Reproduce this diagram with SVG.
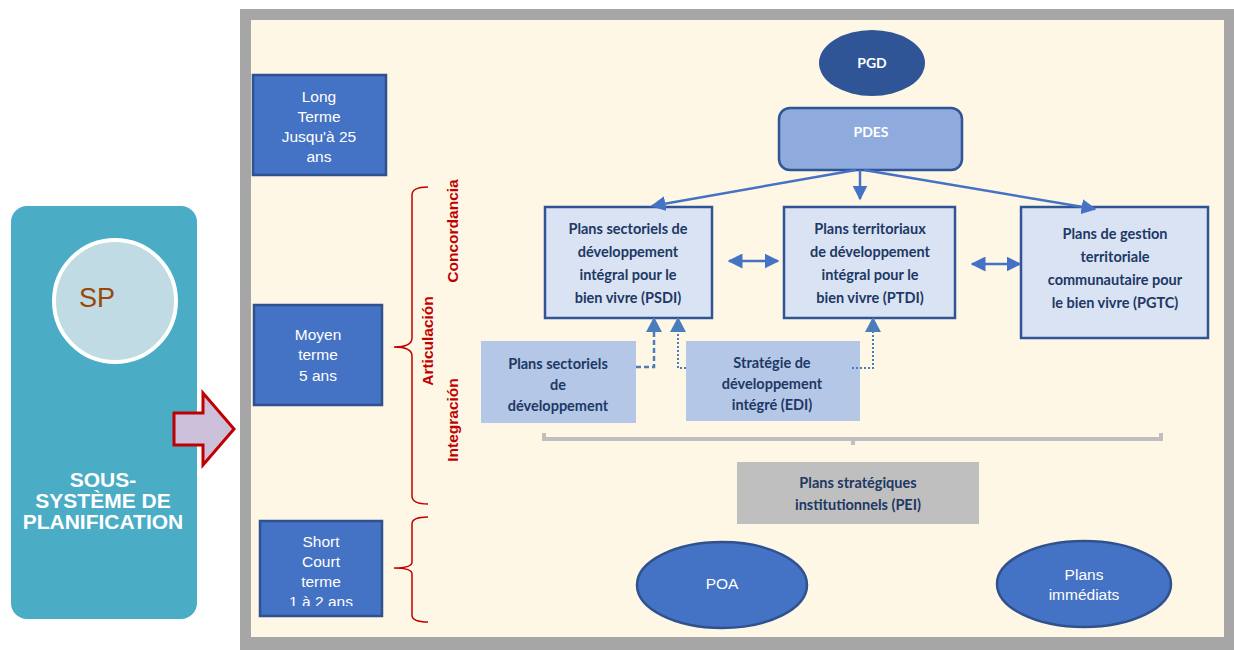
<svg xmlns="http://www.w3.org/2000/svg" width="1234" height="650" viewBox="0 0 1234 650">
  <style>
    .term { fill: #4472C4; stroke: #2F528F; stroke-width: 2.5; }
    .termtxt { font-family: "Liberation Sans", Arial, sans-serif; font-size: 15.5px; fill: #ffffff; text-anchor: middle; }
    .plan { fill: #DAE3F3; stroke: #2F5597; stroke-width: 2.5; }
    .sub { fill: #B4C7E7; }
    .ptxt { font-family: Lato, "Open Sans", sans-serif; font-weight: bold; font-size: 14.5px; fill: #203864; text-anchor: middle; }
    .red { font-family: "Liberation Sans", Arial, sans-serif; font-weight: bold; font-size: 15.5px; fill: #C00000; text-anchor: middle; }
    .brace { fill: none; stroke: #C00000; stroke-width: 1.5; }
    .flow { fill: none; stroke: #4472C4; stroke-width: 2.5; }
    .dot { fill: none; stroke: #4A7EBB; stroke-width: 2; stroke-dasharray: 2 2; }
    .dash { fill: none; stroke: #4A7EBB; stroke-width: 2.5; stroke-dasharray: 5 3; }
    .ell { fill: #4472C4; stroke: #2F528F; stroke-width: 2.5; }
  </style>
  <defs>
    <marker id="ah" viewBox="0 0 10 10" refX="9" refY="5" markerWidth="6" markerHeight="6" orient="auto-start-reverse" markerUnits="strokeWidth">
      <path d="M0,0 L10,5 L0,10 z" fill="#4472C4"/>
    </marker>
    <clipPath id="clipShort"><rect x="259" y="520" width="124" height="86"/></clipPath>
    <clipPath id="clipEdi"><rect x="686" y="341" width="174" height="72"/></clipPath>
  </defs>

  <rect x="0" y="0" width="1234" height="650" fill="#ffffff"/>

  <!-- frame -->
  <rect x="240" y="9" width="994" height="641" fill="#A6A6A6"/>
  <rect x="251" y="20" width="973" height="617" fill="#FFF7E5"/>

  <!-- left panel -->
  <g id="sous-systeme">
    <rect x="11" y="206" width="186" height="413" rx="16" fill="#4BACC6"/>
    <circle cx="115" cy="301" r="61" fill="#C0DBE3" stroke="#ffffff" stroke-width="4"/>
    <text x="97" y="307" font-family="Liberation Sans, Arial, sans-serif" font-size="27" fill="#984807" text-anchor="middle">SP</text>
    <g font-family="Liberation Sans, Arial, sans-serif" font-weight="bold" font-size="21" fill="#ffffff" text-anchor="middle">
      <text x="103" y="487">SOUS-</text>
      <text x="103" y="508">SYSTÈME DE</text>
      <text x="103" y="529">PLANIFICATION</text>
    </g>
  </g>

  <g id="fleche">
    <path d="M174,413 L203,413 L203,393 L234,429 L203,465 L203,445 L174,445 z" fill="#CCC0DA" stroke="#C00000" stroke-width="3" stroke-linejoin="miter"/>
  </g>

  <!-- time horizons -->
  <g id="long-terme">
    <rect class="term" x="253" y="75" width="133" height="100"/>
    <text class="termtxt" x="319" y="102">Long</text>
    <text class="termtxt" x="319" y="122">Terme</text>
    <text class="termtxt" x="319" y="142">Jusqu'à 25</text>
    <text class="termtxt" x="319" y="162">ans</text>
  </g>
  <g id="moyen-terme">
    <rect class="term" x="254" y="305" width="128" height="100"/>
    <text class="termtxt" x="318" y="340">Moyen</text>
    <text class="termtxt" x="318" y="360">terme</text>
    <text class="termtxt" x="318" y="381">5 ans</text>
  </g>
  <g id="court-terme">
    <rect class="term" x="260" y="521" width="122" height="95"/>
    <g clip-path="url(#clipShort)">
      <text class="termtxt" x="321" y="547">Short</text>
      <text class="termtxt" x="321" y="567">Court</text>
      <text class="termtxt" x="321" y="587">terme</text>
      <text class="termtxt" x="321" y="607">1 à 2 ans</text>
    </g>
  </g>

  <!-- braces -->
  <g id="accolades">
    <path class="brace" d="M428,187 Q412,187 412,195 L412,338 Q412,347 394,347 Q412,347 412,356 L412,496 Q412,504 428,504"/>
    <path class="brace" d="M428,517 Q412,517 412,524 L412,562 Q412,568 394,568 Q412,568 412,574 L412,615 Q412,622 428,622"/>
    <text class="red" transform="translate(458,231) rotate(-90)">Concordancia</text>
    <text class="red" transform="translate(433,341) rotate(-90)">Articulación</text>
    <text class="red" transform="translate(458,420) rotate(-90)">Integración</text>
  </g>

  <!-- national plans -->
  <g id="pgd">
    <ellipse cx="872" cy="63" rx="53" ry="33" fill="#2F5597"/>
    <text x="872" y="68" font-family="Lato, Open Sans, sans-serif" font-weight="bold" font-size="14" fill="#ffffff" text-anchor="middle">PGD</text>
  </g>
  <g id="pdes">
    <rect x="779" y="108" width="183" height="62" rx="11" fill="#8FAADC" stroke="#2F5597" stroke-width="2.5"/>
    <text x="871" y="137" font-family="Lato, Open Sans, sans-serif" font-weight="bold" font-size="14" fill="#ffffff" text-anchor="middle">PDES</text>
  </g>

  <g id="psdi">
    <rect class="plan" x="545" y="207" width="167" height="111"/>
    <text class="ptxt" x="628" y="234">Plans sectoriels de</text>
    <text class="ptxt" x="628" y="257">développement</text>
    <text class="ptxt" x="628" y="280">intégral pour le</text>
    <text class="ptxt" x="628" y="303">bien vivre (PSDI)</text>
  </g>
  <g id="ptdi">
    <rect class="plan" x="784" y="207" width="171" height="111"/>
    <text class="ptxt" x="870" y="234">Plans territoriaux</text>
    <text class="ptxt" x="870" y="257">de développement</text>
    <text class="ptxt" x="870" y="280">intégral pour le</text>
    <text class="ptxt" x="870" y="303">bien vivre (PTDI)</text>
  </g>
  <g id="pgtc">
    <rect class="plan" x="1021" y="207" width="187" height="131"/>
    <text class="ptxt" x="1115" y="239">Plans de gestion</text>
    <text class="ptxt" x="1115" y="262">territoriale</text>
    <text class="ptxt" x="1115" y="285">communautaire pour</text>
    <text class="ptxt" x="1115" y="308">le bien vivre (PGTC)</text>
  </g>

  <g id="psd">
    <rect class="sub" x="481" y="341" width="155" height="82"/>
    <text class="ptxt" x="558" y="369">Plans sectoriels</text>
    <text class="ptxt" x="558" y="390">de</text>
    <text class="ptxt" x="558" y="411">développement</text>
  </g>
  <g id="edi">
    <rect class="sub" x="686" y="341" width="174" height="80"/>
    <g clip-path="url(#clipEdi)">
      <text class="ptxt" x="772" y="368">Stratégie de</text>
      <text class="ptxt" x="772" y="389">développement</text>
      <text class="ptxt" x="772" y="410">intégré (EDI)</text>
    </g>
  </g>

  <g id="pei">
    <rect x="737" y="462" width="242" height="62" fill="#BFBFBF"/>
    <text class="ptxt" x="858" y="488" font-size="15">Plans stratégiques</text>
    <text class="ptxt" x="858" y="510" font-size="15">institutionnels (PEI)</text>
  </g>

  <g id="poa">
    <ellipse class="ell" cx="722" cy="585" rx="85" ry="43"/>
    <text class="termtxt" x="722" y="589">POA</text>
  </g>
  <g id="plans-immediats">
    <ellipse class="ell" cx="1084" cy="584" rx="87" ry="43"/>
    <text class="termtxt" x="1084" y="580">Plans</text>
    <text class="termtxt" x="1084" y="600">immédiats</text>
  </g>

  <!-- connectors -->
  <g id="connecteurs">
    <path class="flow" d="M856,170 L652,206" marker-end="url(#ah)"/>
    <path class="flow" d="M860,170 L860,199" marker-end="url(#ah)"/>
    <path class="flow" d="M864,170 L1095,209" marker-end="url(#ah)"/>
    <path class="flow" d="M729,261 L778,261" marker-start="url(#ah)" marker-end="url(#ah)"/>
    <path class="flow" d="M972,264 L1020,264" marker-start="url(#ah)" marker-end="url(#ah)"/>

    <path class="dash" d="M636,367 L654,367 L654,331"/>
    <path d="M646,332 L654,317 L662,332 z" fill="#4A7EBB"/>
    <path class="dot" d="M686,368 L678,368 L678,331"/>
    <path d="M670,332 L678,317 L686,332 z" fill="#4A7EBB"/>
    <path class="dot" d="M852,368 L873,368 L873,331"/>
    <path d="M865,332 L873,317 L881,332 z" fill="#4A7EBB"/>

    <path d="M544,433 L544,439 L1161,439 L1161,433 M853,439 L853,445" fill="none" stroke="#BFBFBF" stroke-width="4"/>
  </g>
</svg>
